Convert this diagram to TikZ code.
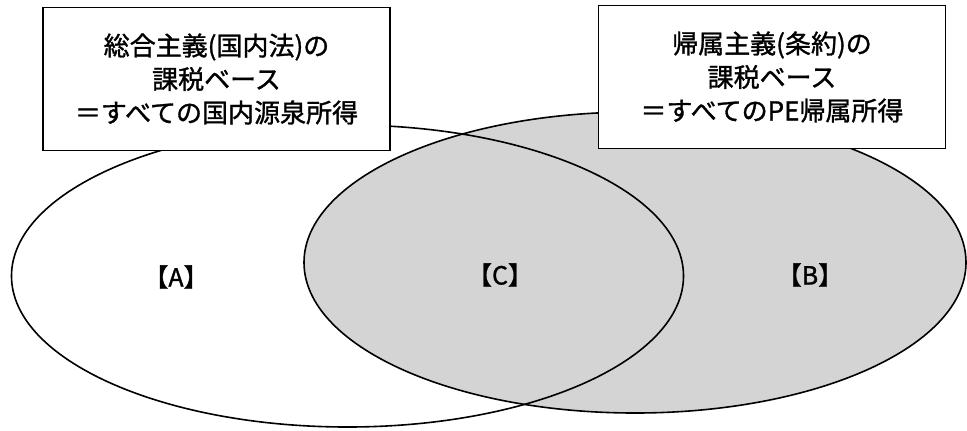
\documentclass[tikz,border=0pt]{standalone}
\usepackage{fontspec}
\newfontfamily\jp[FakeBold=1.2]{Noto Sans CJK JP}
\begin{document}
\begin{tikzpicture}[x=1bp,y=-1bp,
  outline/.style={draw=black,line width=1.6bp},
  titlebox/.style={draw=black,line width=1.2bp,fill=white,minimum width=347bp,minimum height=143bp,align=center,inner sep=0pt,font=\jp\fontsize{26bp}{33.5bp}\selectfont},
  region/.style={font=\jp\fontsize{25bp}{28bp}\selectfont,inner sep=0pt}]
\useasboundingbox (0,0) rectangle (967,430);
% right ellipse (PE-attributable income), shaded
\path[outline,fill=black!17] (635,262.5) ellipse [x radius=331, y radius=150.5];
% left ellipse (domestic source income)
\path[outline] (347.5,276) ellipse [x radius=336, y radius=151];
% boxes
\node[titlebox] (lbox) at (216.5,79) {総合主義(国内法)の\\課税ベース\\＝すべての国内源泉所得};
\node[titlebox] (rbox) at (772,77) {帰属主義(条約)の\\課税ベース\\＝すべてのPE帰属所得};
% region labels
\node[region] (A) at (176,277) {【A】};
\node[region] (C) at (500,275) {【C】};
\node[region] (B) at (810,275) {【B】};
\end{tikzpicture}
\end{document}
